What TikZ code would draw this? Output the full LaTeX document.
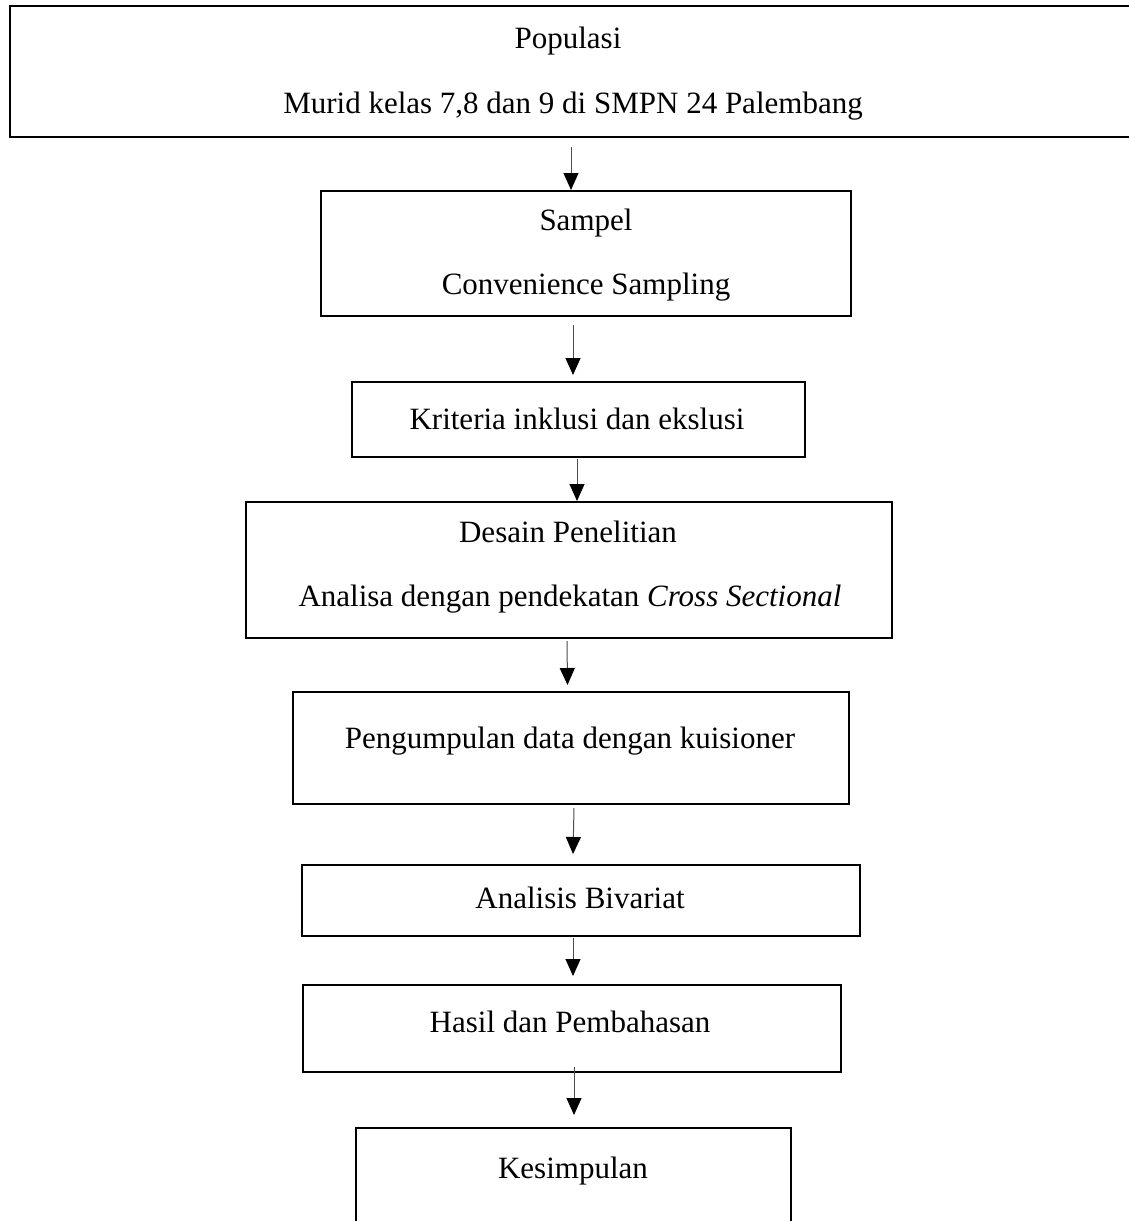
\documentclass[tikz,border=0pt]{standalone}
\usepackage{fontspec}
\setmainfont{Liberation Serif}
\usetikzlibrary{arrows.meta}

\tikzset{
  kotak/.style={draw, line width=2pt, inner sep=0pt},
  teks/.style={anchor=base, inner sep=0pt, font=\fontsize{31}{37}\selectfont},
  alur/.style={-{Triangle[width=15pt,length=17pt,color=black]}, line width=1pt, black!70},
}

\begin{document}
\begin{tikzpicture}[x=1pt, y=-1pt]
  \useasboundingbox (0,0) rectangle (1128,1221);

  % Kotak-kotak alur penelitian
  \node[kotak, minimum width=1130pt, minimum height=131pt] (pop) at (575,71.5) {};
  \node[kotak, minimum width=530pt, minimum height=125pt] (sampel) at (586,253.5) {};
  \node[kotak, minimum width=453pt, minimum height=75pt] (krit) at (578.5,419.5) {};
  \node[kotak, minimum width=646pt, minimum height=136pt] (desain) at (569,570) {};
  \node[kotak, minimum width=556pt, minimum height=112pt] (kumpul) at (571,748) {};
  \node[kotak, minimum width=558pt, minimum height=71pt] (bivar) at (581,900.5) {};
  \node[kotak, minimum width=538pt, minimum height=87pt] (hasil) at (572,1028.5) {};
  \node[kotak, minimum width=435pt, minimum height=132pt] (simpul) at (573.5,1194) {};

  % Teks
  \node[teks] (pop-a) at (568,48) {Populasi};
  \node[teks] (pop-b) at (573,113) {Murid kelas 7,8 dan 9 di SMPN 24 Palembang};
  \node[teks] (sampel-a) at (586,230) {Sampel};
  \node[teks] (sampel-b) at (586,294) {Convenience Sampling};
  \node[teks] (krit-a) at (577,429) {Kriteria inklusi dan ekslusi};
  \node[teks] (desain-a) at (568,542) {Desain Penelitian};
  \node[teks] (desain-b) at (570,606) {Analisa dengan pendekatan \textit{Cross Sectional}};
  \node[teks] (kumpul-a) at (570,748) {Pengumpulan data dengan kuisioner};
  \node[teks] (bivar-a) at (580,908) {Analisis Bivariat};
  \node[teks] (hasil-a) at (570,1032) {Hasil dan Pembahasan};
  \node[teks] (simpul-a) at (573,1178) {Kesimpulan};

  % Panah
  \draw[alur] ([shift={(-4,9)}]pop.south) -- ([shift={(-15,0)}]sampel.north);
  \draw[alur] ([shift={(-13,8)}]sampel.south) -- ([shift={(-5.5,-6)}]krit.north);
  \draw[alur] ([shift={(-1.5,1)}]krit.south) -- ([shift={(8,0)}]desain.north);
  \draw[alur] ([shift={(-2,2)}]desain.south) -- ([shift={(-3.5,-6)}]kumpul.north);
  \draw[alur] ([shift={(3,3)}]kumpul.south) -- ([shift={(-8,-10)}]bivar.north);
  \draw[alur] ([shift={(-8,1)}]bivar.south) -- ([shift={(1,-8)}]hasil.north);
  \draw[alur] ([shift={(2,-6)}]hasil.south) -- ([shift={(0.5,-12)}]simpul.north);
\end{tikzpicture}
\end{document}
